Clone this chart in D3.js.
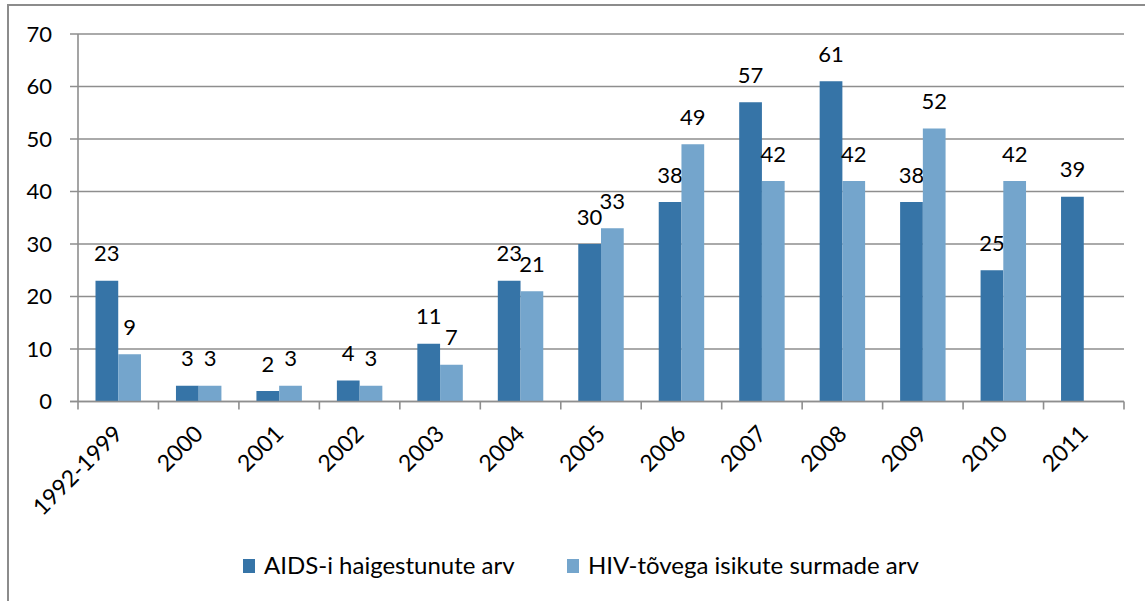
<!DOCTYPE html>
<html>
<head>
<meta charset="utf-8">
<script src="https://cdn.jsdelivr.net/npm/d3@7"></script>
<style>
  body { margin: 0; background: #fff; }
  svg text { font-family: Lato, "Open Sans", sans-serif; fill: #000; }
</style>
</head>
<body>
<svg id="chart" width="1145" height="601"></svg>
<script>
// andmed
const categories = ["1992-1999", "2000", "2001", "2002", "2003", "2004", "2005", "2006", "2007", "2008", "2009", "2010", "2011"];
const aidsValues = [23, 3, 2, 4, 11, 23, 30, 38, 57, 61, 38, 25, 39];
const hivDeaths = [9, 3, 3, 3, 7, 21, 33, 49, 42, 42, 52, 42, null];
const seriesNames = ["AIDS-i haigestunute arv", "HIV-tõvega isikute surmade arv"];
const seriesColors = ["#3674a7", "#74a5cc"];
const yTicks = [0, 10, 20, 30, 40, 50, 60, 70];

const svg = d3.select("#chart");
const plotLeft = 78, plotRight = 1124, plotTop = 34, plotBottom = 401.5;

// raam
svg.append("path")
  .attr("d", `M8,${601 + 2}V5H${1145 + 2}`)
  .attr("fill", "none")
  .attr("stroke", "#8c8c8c")
  .attr("stroke-width", 2);

const x = d3.scaleBand().domain(categories).range([plotLeft, plotRight]).padding(0);
const x1 = d3.scaleBand().domain([0, 1]).range([0, x.bandwidth()]).paddingInner(0).paddingOuter(0.77);
const y = d3.scaleLinear().domain([0, 70]).range([plotBottom, plotTop]);

// ruudustik
svg.append("g")
  .selectAll("line")
  .data(yTicks)
  .join("line")
  .attr("x1", plotLeft - 8)
  .attr("x2", plotRight)
  .attr("y1", d => y(d))
  .attr("y2", d => y(d))
  .attr("stroke", "#8e8e8e")
  .attr("stroke-width", 1.6);

// y-telje sildid
svg.append("g")
  .selectAll("text")
  .data(yTicks)
  .join("text")
  .attr("x", 52)
  .attr("y", d => y(d))
  .attr("dy", "0.35em")
  .attr("text-anchor", "end")
  .style("font-size", "22px")
  .text(d => d);

// tulbad
const series = [aidsValues, hivDeaths];
series.forEach((vals, si) => {
  const data = categories.map((c, i) => ({ c, v: vals[i] })).filter(d => d.v != null);
  svg.append("g")
    .selectAll("rect")
    .data(data)
    .join("rect")
    .attr("x", d => x(d.c) + x1(si))
    .attr("width", x1.bandwidth())
    .attr("y", d => y(d.v))
    .attr("height", d => y(0) - y(d.v))
    .attr("fill", seriesColors[si]);

  svg.append("g")
    .selectAll("text")
    .data(data)
    .join("text")
    .attr("x", d => x(d.c) + x1(si) + x1.bandwidth() / 2)
    .attr("y", d => y(d.v) - 27)
    .attr("dy", "0.35em")
    .attr("text-anchor", "middle")
    .style("font-size", "22px")
    .text(d => d.v);
});

// teljed
svg.append("line")
  .attr("x1", plotLeft).attr("x2", plotLeft)
  .attr("y1", plotTop).attr("y2", plotBottom)
  .attr("stroke", "#8e8e8e").attr("stroke-width", 1.6);

svg.append("line")
  .attr("x1", plotLeft - 8).attr("x2", plotRight)
  .attr("y1", plotBottom).attr("y2", plotBottom)
  .attr("stroke", "#8e8e8e").attr("stroke-width", 1.6);

const tickXs = categories.map(c => x(c)).concat([plotRight]);
svg.append("g")
  .selectAll("line")
  .data(tickXs)
  .join("line")
  .attr("x1", d => d).attr("x2", d => d)
  .attr("y1", plotBottom).attr("y2", plotBottom + 8)
  .attr("stroke", "#8e8e8e").attr("stroke-width", 1.6);

// x-telje sildid
svg.append("g")
  .selectAll("text")
  .data(categories)
  .join("text")
  .attr("transform", d => `translate(${x(d) + x.bandwidth() / 2},${plotBottom + 28}) rotate(-45)`)
  .attr("text-anchor", "end")
  .attr("dy", "0.35em")
  .style("font-size", "23px")
  .text(d => d);

// legend
const legendX = [243, 567];
seriesNames.forEach((name, i) => {
  svg.append("rect")
    .attr("x", legendX[i])
    .attr("y", 559)
    .attr("width", 12)
    .attr("height", 14)
    .attr("fill", seriesColors[i]);
  svg.append("text")
    .attr("x", legendX[i] + 21)
    .attr("y", 566)
    .attr("dy", "0.35em")
    .style("font-size", "24px")
    .text(name);
});
</script>
</body>
</html>
